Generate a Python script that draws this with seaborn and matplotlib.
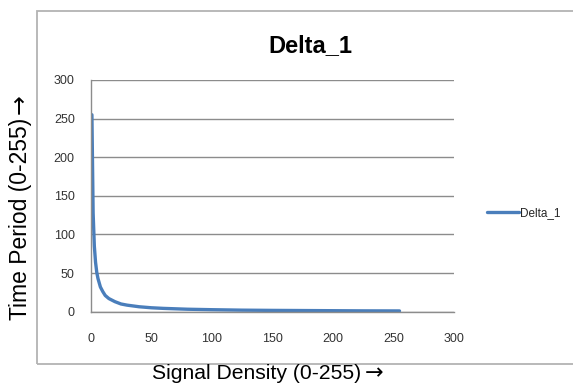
import matplotlib
matplotlib.use('Agg')
import matplotlib.pyplot as plt
from matplotlib.patches import Rectangle
import numpy as np
import pandas as pd
import seaborn as sns

# values
signal_density = [1, 2, 3, 4, 5, 6, 8, 10, 12, 15, 20, 25, 30, 40, 50, 60, 80, 100, 125, 150, 175, 200, 225, 255]
time_period = [255, 128, 85, 64, 51, 43, 32, 26, 21, 17, 13, 10, 8.5, 6.4, 5.1, 4.3, 3.2, 2.6, 2.0, 1.7, 1.5, 1.3, 1.1, 1.0]
series_name = 'Delta_1'
x_ticks = [0, 50, 100, 150, 200, 250, 300]
y_ticks = [0, 50, 100, 150, 200, 250, 300]

df = pd.DataFrame({'x': signal_density, 'y': time_period, 'series': series_name})

sns.set_style('white')
plt.rcParams['font.family'] = ['Liberation Sans', 'DejaVu Sans']

W, H = 573, 385
fig = plt.figure(figsize=(W/100, H/100), dpi=100)
ax = fig.add_axes([90.7/W, 1-311.7/H, (454-90.7)/W, (311.7-80)/H])

sns.lineplot(data=df, x='x', y='y', hue='series', palette=['#4A7EBB'],
             linewidth=2.4, ax=ax, sort=False)

ax.set_xlim(0, 300)
ax.set_ylim(0, 300)
ax.set_xticks(x_ticks)
ax.set_yticks(y_ticks)
ax.set_xlabel('')
ax.set_ylabel('')

grey = '#8c8c8c'
ax.yaxis.grid(True, color=grey, linewidth=1.0)
ax.xaxis.grid(False)
ax.set_axisbelow(True)
for s in ['top', 'right']:
    ax.spines[s].set_visible(False)
for s in ['left', 'bottom']:
    ax.spines[s].set_color(grey)
    ax.spines[s].set_linewidth(1.0)

ax.tick_params(axis='y', direction='out', length=4.5, width=1, color=grey,
               labelsize=9, labelcolor='#333333', pad=7)
ax.tick_params(axis='x', direction='out', length=3, width=1, color=grey,
               labelsize=9, labelcolor='#333333', pad=12)

# legend to the right of the plot
handles, labels = ax.get_legend_handles_labels()
ax.legend(handles, labels, loc='center left', bbox_to_anchor=(487/W, 1-213/H),
          bbox_transform=fig.transFigure, frameon=False, borderpad=0,
          borderaxespad=0, handlelength=2.7, handletextpad=0.1, fontsize=8.5)

fig.text(310.5/W, 1-52/H, 'Delta_1', ha='center', va='baseline',
         fontsize=17, fontweight='bold', color='black')

# axis titles, arrow drawn with DejaVu so it has the right size
ylab = fig.text(27/W, 1-320/H, 'Time Period (0-255)', rotation=90,
                rotation_mode='anchor', ha='left', va='baseline',
                fontsize=16.5, color='black')
xlab = fig.text(152/W, 1-379/H, 'Signal Density (0-255)', ha='left',
                va='baseline', fontsize=15.2, color='black')

renderer = fig.canvas.get_renderer()
yb = ylab.get_window_extent(renderer)
xb = xlab.get_window_extent(renderer)
fig.text(27/W, (yb.y1 + 4)/H, '\u2192', rotation=90, rotation_mode='anchor',
         ha='left', va='baseline', fontsize=17, family='DejaVu Sans',
         color='black')
fig.text((xb.x1 + 4)/W, 1-379/H, '\u2192', ha='left', va='baseline',
         fontsize=16, family='DejaVu Sans', color='black')

# chart area border (right side runs off the image)
fig.patches.append(Rectangle((37/W, 1-364/H), 1.0, (364-11)/H,
                             transform=fig.transFigure, fill=False,
                             edgecolor='#b3b3b3', linewidth=1.3))

fig.savefig('out.png', dpi=100)
